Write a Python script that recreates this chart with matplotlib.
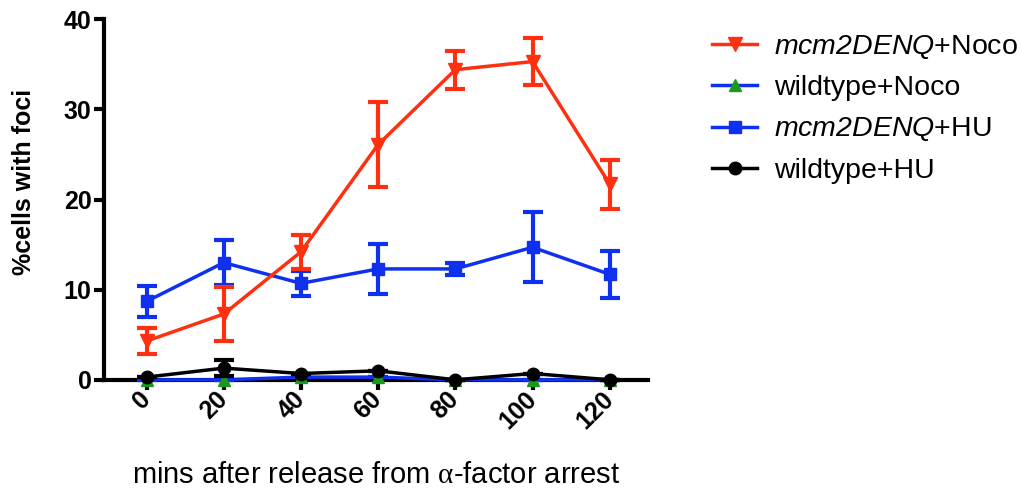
import numpy as np
import matplotlib
matplotlib.use("Agg")
import matplotlib.pyplot as plt
from matplotlib.lines import Line2D
import matplotlib.transforms as mtransforms

plt.rcParams["font.family"] = ["Liberation Sans", "DejaVu Sans"]
plt.rcParams["mathtext.fontset"] = "custom"
plt.rcParams["mathtext.sf"] = "Liberation Sans:italic"
plt.rcParams["mathtext.rm"] = "Liberation Serif"
plt.rcParams["mathtext.it"] = "Liberation Serif"

mins = [0, 20, 40, 60, 80, 100, 120]

mut_noco = [4.3, 7.3, 14.2, 26.1, 34.4, 35.3, 21.7]
mut_noco_err = [1.4, 3.0, 1.9, 4.7, 2.1, 2.6, 2.7]
wt_noco = [0.0, 0.0, 0.3, 0.3, 0.0, 0.0, 0.0]
wt_noco_err = [0.0, 0.0, 0.0, 0.0, 0.0, 0.0, 0.0]
mut_hu = [8.7, 13.0, 10.7, 12.3, 12.3, 14.7, 11.7]
mut_hu_err = [1.7, 2.5, 1.4, 2.8, 0.7, 3.9, 2.6]
wt_hu = [0.3, 1.3, 0.7, 1.0, 0.0, 0.7, 0.0]
wt_hu_err = [0.0, 0.9, 0.0, 0.0, 0.0, 0.0, 0.0]

labels = [r"$\mathsf{mcm2DENQ}$+Noco", "wildtype+Noco",
          r"$\mathsf{mcm2DENQ}$+HU", "wildtype+HU"]

red = "#ff3010"
blue = "#1030f0"
green = "#1a9a1a"

fig = plt.figure(figsize=(10.21, 4.92), dpi=100)
ax = fig.add_axes([0.102, 0.228, 0.533, 0.733])

kw = dict(lw=2.5, elinewidth=3, capsize=7, capthick=3, clip_on=False)
ax.errorbar(mins, mut_noco, yerr=mut_noco_err, color=red, marker="v", ms=10, zorder=4, **kw)
ax.errorbar(mins, wt_noco, yerr=wt_noco_err, color=blue, marker="^", ms=9,
            mfc=green, mec=green, zorder=3, **kw)
ax.errorbar(mins, mut_hu, yerr=mut_hu_err, color=blue, marker="s", ms=9, zorder=3, **kw)
ax.errorbar(mins, wt_hu, yerr=wt_hu_err, color="black", marker="o", ms=9, zorder=5, **kw)

ax.set_xlim(-11, 130)
ax.set_ylim(0, 40)
ax.set_yticks([0, 10, 20, 30, 40])
ax.set_xticks(mins)
ax.set_xticklabels([str(m) for m in mins], rotation=45, ha="right", va="center",
                   rotation_mode="anchor", fontsize=18, fontweight="bold")
off = mtransforms.ScaledTranslation(16 / 72, -5 / 72, fig.dpi_scale_trans)
for t in ax.get_xticklabels():
    t.set_transform(t.get_transform() + off)
for t in ax.get_yticklabels():
    t.set_fontsize(18)
    t.set_fontweight("bold")
ax.tick_params(direction="out", width=3, length=7)
ax.tick_params(axis="x", pad=4)
ax.tick_params(axis="y", pad=2)
for s in ["top", "right"]:
    ax.spines[s].set_visible(False)
for s in ["left", "bottom"]:
    ax.spines[s].set_linewidth(3)

ax.set_ylabel("%cells with foci", fontsize=18, fontweight="bold")
ax.yaxis.set_label_coords(-0.125, 0.55)
ax.set_xlabel(r"mins after release from $\mathrm{\alpha}$-factor arrest", fontsize=21, labelpad=20)

handles = [
    Line2D([], [], color=red, lw=2.5, marker="v", ms=10),
    Line2D([], [], color=blue, lw=2.5, marker="^", ms=9, mfc=green, mec=green),
    Line2D([], [], color=blue, lw=2.5, marker="s", ms=9),
    Line2D([], [], color="black", lw=2.5, marker="o", ms=9),
]
fig.legend(handles, labels, loc="upper left", bbox_to_anchor=(0.672, 0.985), frameon=False,
           fontsize=20.5, handlelength=1.6, labelspacing=0.5, handletextpad=0.6)

fig.savefig("out.png", dpi=100)
